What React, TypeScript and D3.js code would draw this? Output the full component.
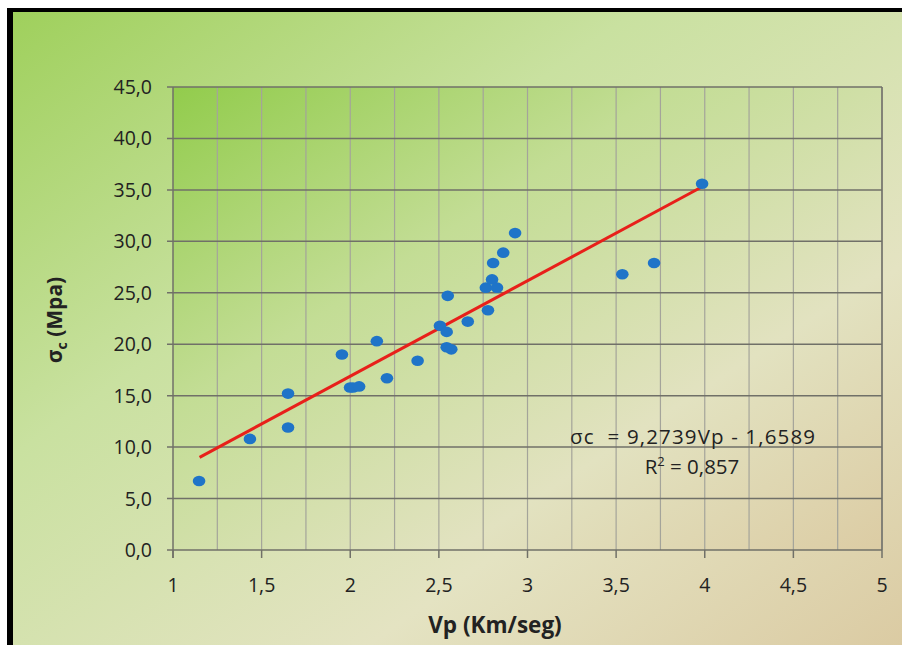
import React from "react";
import * as d3 from "d3";

const vp = [1.147, 1.434, 1.649, 1.649, 1.953, 1.999, 2.016, 2.05, 2.15, 2.207, 2.38, 2.506, 2.544, 2.55, 2.544, 2.57, 2.663, 2.765, 2.80, 2.828, 2.806, 2.777, 2.863, 2.93, 3.535, 3.714, 3.985];
const sigma = [6.7, 10.8, 11.9, 15.2, 19.0, 15.8, 15.8, 15.9, 20.3, 16.7, 18.4, 21.8, 21.2, 24.7, 19.7, 19.5, 22.2, 25.5, 26.3, 25.5, 27.9, 23.3, 28.9, 30.8, 26.8, 27.9, 35.6];
const xTicks = [1, 1.5, 2, 2.5, 3, 3.5, 4, 4.5, 5];
const xMinor = [1.25, 1.5, 1.75, 2, 2.25, 2.5, 2.75, 3, 3.25, 3.5, 3.75, 4, 4.25, 4.5, 4.75, 5];
const yTicks = [0, 5, 10, 15, 20, 25, 30, 35, 40, 45];
const slope = 9.2739;
const intercept = -1.6589;
const fitRange = [1.15, 3.98];

const fmt = (v: number) => String(v).replace(".", ",");
const fmtY = (v: number) => v.toFixed(1).replace(".", ",");

export default function App() {
  const W = 902, H = 645;
  const x = d3.scaleLinear().domain([1, 5]).range([173, 882]);
  const y = d3.scaleLinear().domain([0, 45]).range([550, 87]);
  const font = "Open Sans, sans-serif";
  const line = d3.line<number>().x((d) => x(d)).y((d) => y(slope * d + intercept));
  return (
    <>
      <style>{"body{margin:0}"}</style>
      <svg width={W} height={H} style={{ display: "block" }}>
        <defs>
          <linearGradient id="bg" x1="0" y1="0" x2="1" y2="1">
            <stop offset="0" stopColor="#9fd05c" />
            <stop offset="0.35" stopColor="#c9e1a0" />
            <stop offset="0.7" stopColor="#e4e3c2" />
            <stop offset="1" stopColor="#dbcba3" />
          </linearGradient>
          <linearGradient id="pa" x1="0" y1="0" x2="1" y2="1">
            <stop offset="0" stopColor="#92cc4c" />
            <stop offset="0.35" stopColor="#c3dd95" />
            <stop offset="0.7" stopColor="#e2e2c0" />
            <stop offset="1" stopColor="#dcccA4" />
          </linearGradient>
        </defs>
        <rect x={0} y={0} width={W} height={H} fill="#ffffff" />
        <rect x={13} y={12} width={W - 13} height={H - 12} fill="url(#bg)" />
        <rect x={7} y={8} width={6} height={H - 8} fill="#000" />
        <rect x={7} y={8} width={W - 7} height={4} fill="#000" />
        <rect x={x(1)} y={y(45)} width={x(5) - x(1)} height={y(0) - y(45)} fill="url(#pa)" />
        {xMinor.map((t) => (
          <line key={"vx" + t} x1={x(t)} x2={x(t)} y1={y(45)} y2={y(0)} stroke="#a4a49a" strokeWidth={1.2} />
        ))}
        {yTicks.map((t) => (
          <line key={"hy" + t} x1={x(1) - 6} x2={x(5)} y1={y(t)} y2={y(t)} stroke="#707068" strokeWidth={1.5} />
        ))}
        <line x1={x(1)} x2={x(1)} y1={y(45)} y2={y(0) + 8} stroke="#707068" strokeWidth={1.5} />
        <line x1={x(5)} x2={x(5)} y1={y(45)} y2={y(0)} stroke="#707068" strokeWidth={1.5} />
        {xTicks.map((t) => (
          <line key={"tx" + t} x1={x(t)} x2={x(t)} y1={y(0)} y2={y(0) + 8} stroke="#707068" strokeWidth={1.5} />
        ))}
        {yTicks.map((t) => (
          <text key={"ly" + t} x={152} y={y(t)} dy="0.36em" textAnchor="end" fontFamily={font} fontSize={19.5} fill="#222">
            {fmtY(t)}
          </text>
        ))}
        {xTicks.map((t) => (
          <text key={"lx" + t} x={x(t)} y={592} textAnchor="middle" fontFamily={font} fontSize={19.5} fill="#222">
            {fmt(t)}
          </text>
        ))}
        <path d={line(fitRange) || ""} stroke="#e8201a" strokeWidth={3} fill="none" />
        {vp.map((v, i) => (
          <ellipse key={"p" + i} cx={x(v)} cy={y(sigma[i])} rx={6.3} ry={5.3} fill="#1f74c8" />
        ))}
        <text x={570} y={444} fontFamily={font} fontSize={20.5} fill="#222" textLength={245} lengthAdjust="spacing" style={{ whiteSpace: "pre" }}>
          {"σc  = 9,2739Vp - 1,6589"}
        </text>
        <text x={692} y={474} textAnchor="middle" fontFamily={font} fontSize={20.5} fill="#222">
          R<tspan dy="-8" fontSize={13}>2</tspan><tspan dy="8"> = 0,857</tspan>
        </text>
        <text x={495} y={633} textAnchor="middle" fontFamily={font} fontSize={22.5} fontWeight="bold" fill="#222">
          Vp (Km/seg)
        </text>
        <text transform={`translate(62,320) rotate(-90)`} textAnchor="middle" fontFamily={font} fontSize={21} fontWeight="bold" fill="#222">
          σ<tspan fontSize={14} dy="5">c</tspan><tspan dy="-5"> (Mpa)</tspan>
        </text>
      </svg>
    </>
  );
}
